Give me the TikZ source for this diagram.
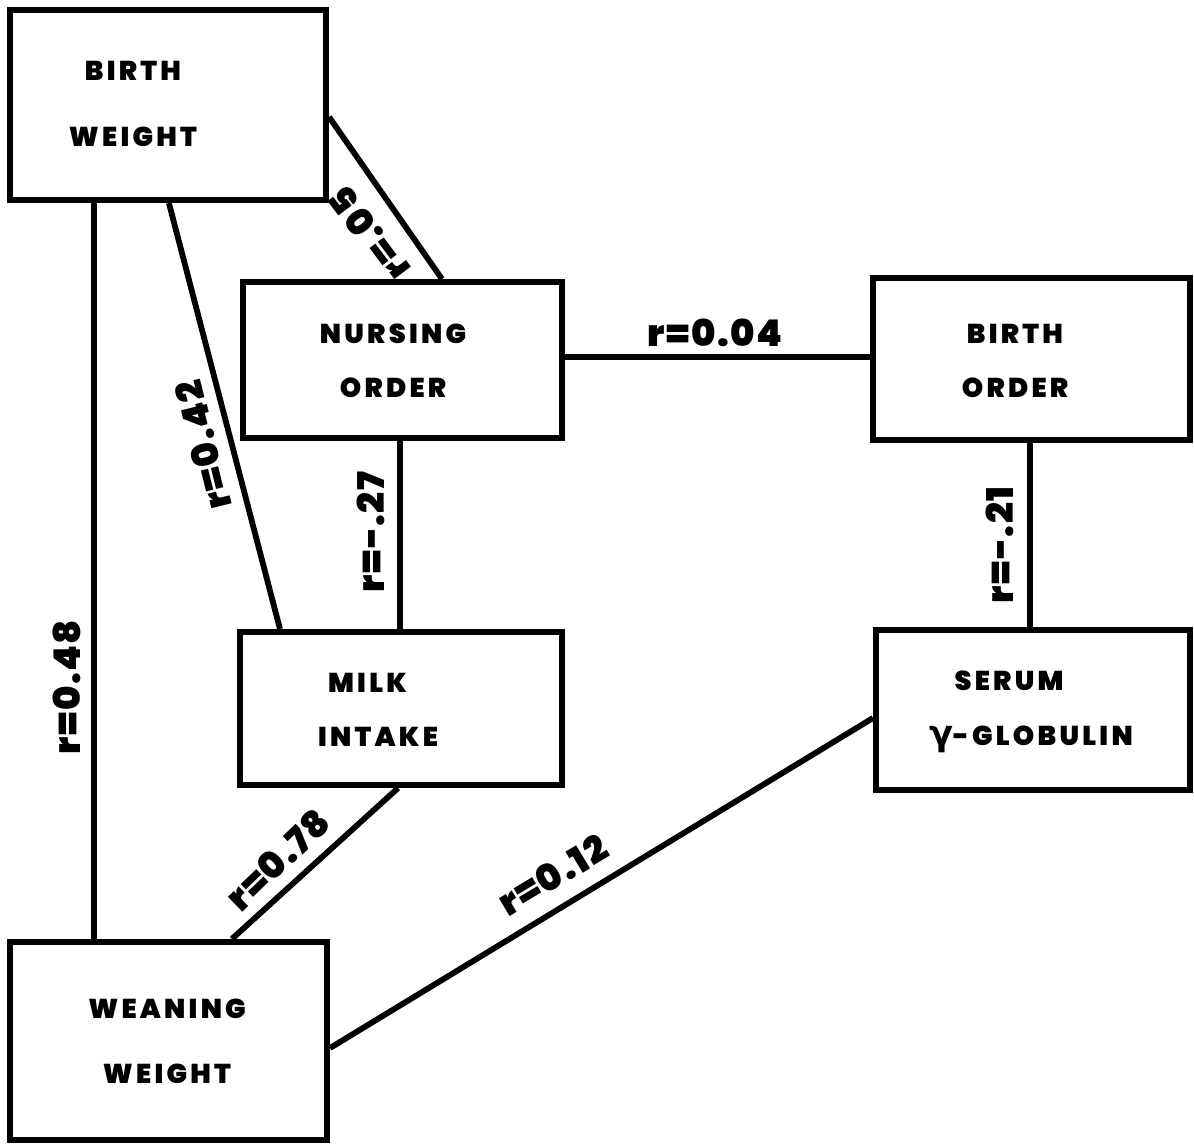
\documentclass[tikz,border=0pt]{standalone}
\usepackage{fontspec}
\newfontfamily\boxfont{Poppins}[UprightFont=* Black, LetterSpace=12]
\newfontfamily\labfont{Poppins}[UprightFont=* Black, LetterSpace=4]
\newfontfamily\grfont{DejaVu Sans}[UprightFont=* Bold]
\newcommand\rlab[1]{{\labfont\fontsize{21}{21}\selectfont r#1}}
\begin{document}
\begin{tikzpicture}[x=0.02cm,y=-0.02cm,
  box/.style={draw,line width=3.5pt,rectangle,inner sep=0pt},
  btext/.style={font=\boxfont\fontsize{15.5}{31}\selectfont,align=center,inner sep=0pt},
  conn/.style={line width=3.3pt},
  lab/.style={inner sep=0pt}]
\useasboundingbox (0,0) rectangle (1194,1144);
% boxes
\node[box,minimum width=6.32cm,minimum height=3.8cm] (bw) at (168,105) {};
\node[box,minimum width=6.38cm,minimum height=3.12cm] (no) at (402.5,360) {};
\node[box,minimum width=6.34cm,minimum height=3.24cm] (bo) at (1031.5,359) {};
\node[box,minimum width=6.44cm,minimum height=3.06cm] (mi) at (401,708.5) {};
\node[box,minimum width=6.28cm,minimum height=3.2cm] (sg) at (1033,710) {};
\node[box,minimum width=6.34cm,minimum height=3.96cm] (ww) at (168.5,1041) {};
% box texts
\node[btext] (bwt) at (133,104) {BIRTH\\[7pt]WEIGHT};
\node[btext] (not) at (393,361) {NURSING\\ORDER};
\node[btext] (bot) at (1015,361) {BIRTH\\ORDER};
\node[btext] (mit) at (378,710) {\hspace*{-12pt}MILK\\INTAKE};
\node[btext] (sgt) at (1031,712) {\hspace*{-25pt}SERUM\\{\grfont\fontsize{20}{20}\selectfont γ}-GLOBULIN};
\node[btext] (wwt) at (167,1041) {WEANING\\[6pt]WEIGHT};
% connectors
\draw[conn] ([xshift=1.74cm]bw.south west) -- ([xshift=1.74cm]ww.north west);
\draw[conn] ([xshift=3.24cm]bw.south west) -- ([xshift=0.86cm]mi.north west);
\draw[conn] ([yshift=-2.2cm]bw.north east) -- ([xshift=4.04cm]no.north west);
\draw[conn] ([yshift=0.06cm]no.east) -- ([yshift=0.06cm]no.east -| bo.west);
\draw[conn] ([xshift=-0.05cm]no.south) -- ([xshift=-0.05cm]no.south |- mi.north);
\draw[conn] ([xshift=-0.03cm]bo.south) -- ([xshift=-0.03cm]bo.south |- sg.north);
\draw[conn] ([xshift=-0.06cm]mi.south) -- ([xshift=4.5cm]ww.north west);
\draw[conn] ([yshift=-0.16cm]sg.west) -- ([yshift=-0.14cm]ww.east);
% labels
\node[lab,rotate=127] (l1) at (369,234) {\rlab{=.05}};
\node[lab,rotate=104] (l2) at (203,445) {\rlab{=0.42}};
\node[lab,rotate=90] (l3) at (371,532) {\rlab{=-.27}};
\node[lab] (l4) at (715,333) {\rlab{=0.04}};
\node[lab,rotate=90] (l5) at (1000,545) {\rlab{=-.21}};
\node[lab,rotate=90] (l6) at (67,687) {\rlab{=0.48}};
\node[lab,rotate=44] (l7) at (278,860) {\rlab{=0.78}};
\node[lab,rotate=31] (l8) at (553,875) {\rlab{=0.12}};
\end{tikzpicture}
\end{document}
